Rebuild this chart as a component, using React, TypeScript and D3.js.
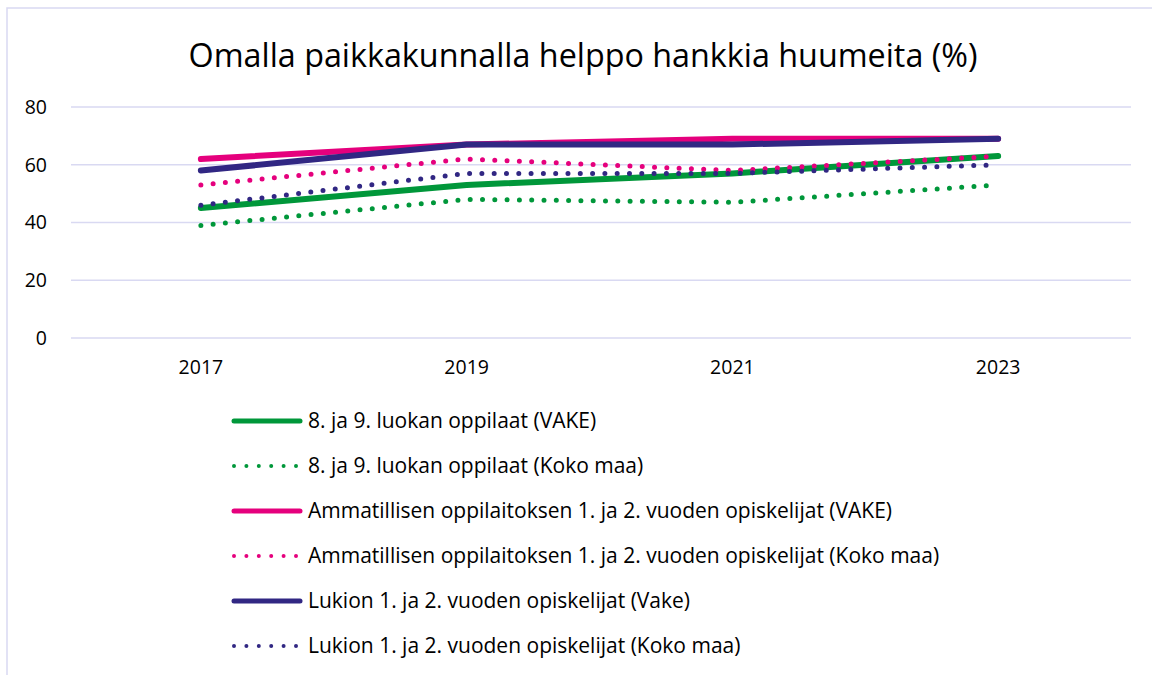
import React, { useEffect, useRef } from 'react';
import * as d3 from 'd3';

const years = ['2017', '2019', '2021', '2023'];
const yTicks = [0, 20, 40, 60, 80];

const seriesNames = [
  '8. ja 9. luokan oppilaat (VAKE)',
  '8. ja 9. luokan oppilaat (Koko maa)',
  'Ammatillisen oppilaitoksen 1. ja 2. vuoden opiskelijat (VAKE)',
  'Ammatillisen oppilaitoksen 1. ja 2. vuoden opiskelijat (Koko maa)',
  'Lukion 1. ja 2. vuoden opiskelijat (Vake)',
  'Lukion 1. ja 2. vuoden opiskelijat (Koko maa)',
];
const peruskouluVake = [45, 53, 57, 63];
const peruskouluKoko = [39, 48, 47, 53];
const ammattiVake = [62, 67, 69, 69];
const ammattiKoko = [53, 62, 58, 63];
const lukioVake = [58, 67, 67, 69];
const lukioKoko = [46, 57, 57, 60];

const seriesColors = ['#00973A', '#00973A', '#E5007D', '#E5007D', '#312783', '#312783'];
const seriesDotted = [false, true, false, true, false, true];

const W = 1152;
const H = 675;
const FONT = '"Open Sans", "Noto Sans", sans-serif';

const App = () => {
  const svgRef = useRef(null);

  useEffect(() => {
    document.body.style.margin = '0';
    const svg = d3.select(svgRef.current);
    svg.selectAll('*').remove();

    const values = [peruskouluVake, peruskouluKoko, ammattiVake, ammattiKoko, lukioVake, lukioKoko];

    // outer frame (runs past the right and bottom edge)
    svg.append('rect')
      .attr('x', 7)
      .attr('y', 8)
      .attr('width', W + 20)
      .attr('height', H + 20)
      .attr('fill', 'white')
      .attr('stroke', '#D9D9F2')
      .attr('stroke-width', 1.5);

    svg.append('text')
      .text('Omalla paikkakunnalla helppo hankkia huumeita (%)')
      .attr('x', 583)
      .attr('y', 67)
      .attr('text-anchor', 'middle')
      .attr('font-family', FONT)
      .attr('font-size', '32.3px')
      .attr('fill', '#000');

    const x = d3.scaleBand().domain(years).range([68, 1131]);
    const y = d3.scaleLinear().domain([0, 80]).range([338, 107]);

    // grid
    const grid = svg.append('g');
    yTicks.forEach(t => {
      grid.append('line')
        .attr('x1', 71)
        .attr('x2', 1131)
        .attr('y1', y(t))
        .attr('y2', y(t))
        .attr('stroke', '#D9D9F2')
        .attr('stroke-width', 1.5);
    });

    const yAxis = d3.axisLeft(y).tickValues(yTicks).tickSize(0).tickPadding(0);
    svg.append('g')
      .attr('transform', 'translate(47,0)')
      .call(yAxis)
      .call(g => g.select('.domain').remove())
      .call(g => g.selectAll('text')
        .attr('font-family', FONT)
        .attr('font-size', '19.5px')
        .attr('fill', '#000'));

    const xAxis = d3.axisBottom(x).tickSize(0).tickPadding(0);
    svg.append('g')
      .attr('transform', 'translate(0,360)')
      .call(xAxis)
      .call(g => g.select('.domain').remove())
      .call(g => g.selectAll('text')
        .attr('font-family', FONT)
        .attr('font-size', '19.5px')
        .attr('fill', '#000'));

    const line = d3.line<number>()
      .x((d, i) => x(years[i])! + x.bandwidth() / 2)
      .y(d => y(d));

    const plot = svg.append('g');
    values.forEach((vals, i) => {
      plot.append('path')
        .attr('d', line(vals))
        .attr('fill', 'none')
        .attr('stroke', seriesColors[i])
        .attr('stroke-width', seriesDotted[i] ? 5 : 6)
        .attr('stroke-linecap', 'round')
        .attr('stroke-linejoin', 'round')
        .attr('stroke-dasharray', seriesDotted[i] ? '0 12.3' : null);
    });

    // legend
    const legend = svg.append('g');
    seriesNames.forEach((name, i) => {
      const ly = 421 + i * 45;
      legend.append('line')
        .attr('x1', 234)
        .attr('x2', seriesDotted[i] ? 296 : 300)
        .attr('y1', ly)
        .attr('y2', ly)
        .attr('stroke', seriesColors[i])
        .attr('stroke-width', seriesDotted[i] ? 4 : 5)
        .attr('stroke-linecap', 'round')
        .attr('stroke-dasharray', seriesDotted[i] ? '0 12.4' : null);
      legend.append('text')
        .text(name)
        .attr('x', 308)
        .attr('y', ly)
        .attr('dy', '0.35em')
        .attr('font-family', FONT)
        .attr('font-size', '21px')
        .attr('fill', '#000');
    });
  }, []);

  return (
    <svg width={W} height={H} viewBox={`0 0 ${W} ${H}`} ref={svgRef} style={{ display: 'block' }}>
    </svg>
  );
};

export default App;
